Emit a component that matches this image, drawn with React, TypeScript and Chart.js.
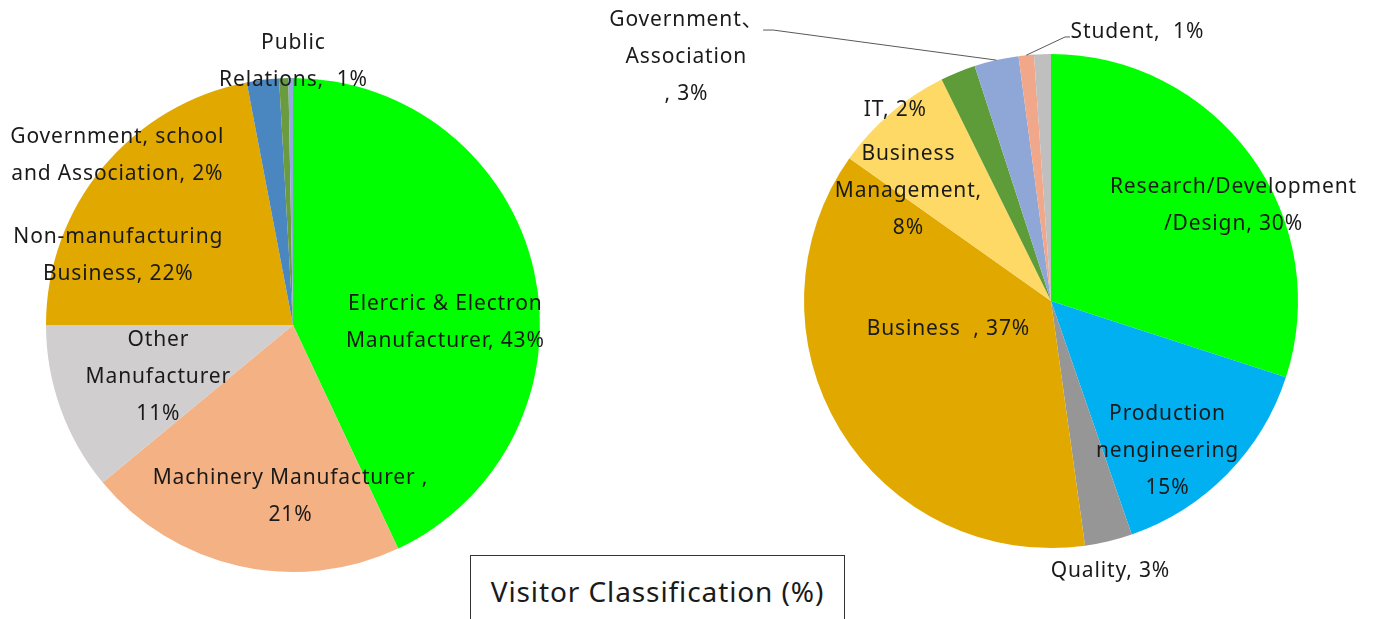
import React, { useEffect, useRef } from "react";
import { Chart, registerables } from "chart.js";

Chart.register(...registerables);

// ---------- DATA ----------
const leftCategories = [
  "Elercric & Electron Manufacturer",
  "Machinery Manufacturer",
  "Other Manufacturer",
  "Non-manufacturing Business",
  "Government, school and Association",
  "Public Relations",
  "Others",
];
const leftValues = [43, 21, 11, 22, 2.1, 0.6, 0.3];
const leftLabelLines = [
  ["Elercric & Electron", "Manufacturer, 43%"],
  ["Machinery Manufacturer ,", "21%"],
  ["Other", "Manufacturer", "11%"],
  ["Non-manufacturing", "Business, 22%"],
  ["Government, school", "and Association, 2%"],
  ["Public", "Relations,  1%"],
  [],
];

const rightCategories = [
  "Research/Development/Design",
  "Production nengineering",
  "Quality",
  "Business",
  "Business Management",
  "IT",
  "Government、Association",
  "Student",
  "Others",
];
const rightValues = [30, 14.7, 3.1, 37, 7.9, 2.3, 2.9, 1, 1.1];
const rightLabelLines = [
  ["Research/Development", "/Design, 30%"],
  ["Production", "nengineering", "15%"],
  ["Quality, 3%"],
  ["Business  , 37%"],
  ["Business", "Management,", "8%"],
  ["IT, 2%"],
  ["Government\u3001", "Association", ", 3%"],
  ["Student,  1%"],
  [],
];

const titleText = "Visitor Classification (%)";

// ---------- STYLES / LAYOUT ----------
const leftColors = ["#00FF00", "#F4B183", "#D0CECE", "#E1A900", "#4A86BF", "#6B9B3F", "#8FAADC"];
const rightColors = ["#00FF00", "#00B0F0", "#969696", "#E1A900", "#FFD966", "#5E9C3A", "#8FA7D6", "#F0A78A", "#BFBFBF"];

// label block centres relative to the pie centre, in units of radius
const leftLabelPos: number[][] = [
  [0.615, -0.01],
  [-0.012, 0.694],
  [-0.547, 0.21],
  [-0.709, -0.283],
  [-0.713, -0.686],
  [0, -1.067],
  [0, 0],
];
const rightLabelPos: number[][] = [
  [0.737, -0.387],
  [0.47, 0.607],
  [0.239, 1.093],
  [-0.417, 0.113],
  [-0.579, -0.445],
  [-0.632, -0.773],
  [-1.478, -0.986],
  [0.348, -1.089],
  [0, 0],
];
// leader lines: [elbow dx, elbow dy (radius units), horizontal tail px]
const rightLeaders: (number[] | null)[] = [null, null, null, null, null, null, [-1.125, -1.097, -10], [0.057, -1.069, 5], null];

const FONT = "'Noto Sans', 'Noto Sans CJK JP', sans-serif";
const FONT_SIZE = 21;
const LINE_H = 37;
const LETTER_SP = 0.85;

const labelPlugin = {
  id: "sliceLabels",
  afterDatasetsDraw(chart: any, _args: any, opts: any) {
    const { ctx } = chart;
    const meta = chart.getDatasetMeta(0);
    const lines: string[][] = opts.lines;
    const pos: number[][] = opts.pos;
    const leaders: (number[] | null)[] = opts.leaders || [];
    ctx.save();
    meta.data.forEach((arc: any, i: number) => {
      const cx = arc.x, cy = arc.y, r = arc.outerRadius;
      const ld = leaders[i];
      if (ld) {
        const mid = (arc.startAngle + arc.endAngle) / 2;
        const sx = cx + Math.cos(mid) * r;
        const sy = cy + Math.sin(mid) * r;
        const ex = cx + ld[0] * r;
        const ey = cy + ld[1] * r;
        ctx.strokeStyle = "#595959";
        ctx.lineWidth = 1;
        ctx.beginPath();
        ctx.moveTo(sx, sy);
        ctx.lineTo(ex, ey);
        ctx.lineTo(ex + ld[2], ey);
        ctx.stroke();
      }
      const ls = lines[i] || [];
      if (!ls.length) return;
      const bx = cx + pos[i][0] * r;
      const by = cy + pos[i][1] * r;
      ctx.fillStyle = "#1A1A1A";
      ctx.font = `${FONT_SIZE}px ${FONT}`;
      (ctx as any).letterSpacing = `${LETTER_SP}px`;
      ctx.textAlign = "left";
      ctx.textBaseline = "middle";
      const n = ls.length;
      ls.forEach((t, k) => {
        const w = ctx.measureText(t).width - LETTER_SP;
        ctx.fillText(t, bx - w / 2, by + (k - (n - 1) / 2) * LINE_H);
      });
    });
    ctx.restore();
  },
};

function PieCanvas(props: {
  labels: string[];
  values: number[];
  colors: string[];
  lines: string[][];
  pos: number[][];
  leaders?: (number[] | null)[];
  padding: { left: number; right: number; top: number; bottom: number };
  style: React.CSSProperties;
  width: number;
  height: number;
}) {
  const ref = useRef<HTMLCanvasElement | null>(null);
  useEffect(() => {
    if (!ref.current) return;
    const chart = new Chart(ref.current, {
      type: "pie",
      data: {
        labels: props.labels,
        datasets: [
          {
            data: props.values,
            backgroundColor: props.colors,
            borderWidth: 0,
          },
        ],
      },
      options: {
        animation: false,
        responsive: false,
        maintainAspectRatio: false,
        layout: { padding: props.padding },
        plugins: {
          legend: { display: false },
          tooltip: { enabled: false },
          title: { display: false },
          sliceLabels: { lines: props.lines, pos: props.pos, leaders: props.leaders || [] },
        } as any,
      },
      plugins: [labelPlugin as any],
    });
    return () => chart.destroy();
  }, []);
  return <canvas ref={ref} width={props.width} height={props.height} style={props.style} />;
}

export default function App() {
  return (
    <div style={{ position: "absolute", left: 0, top: 0, width: 1376, height: 619, overflow: "hidden", background: "#fff" }}>
      <PieCanvas
        labels={leftCategories}
        values={leftValues}
        colors={leftColors}
        lines={leftLabelLines}
        pos={leftLabelPos}
        padding={{ left: 46, right: 60, top: 78, bottom: 47 }}
        width={600}
        height={619}
        style={{ position: "absolute", left: 0, top: 0, width: 600, height: 619 }}
      />
      <PieCanvas
        labels={rightCategories}
        values={rightValues}
        colors={rightColors}
        lines={rightLabelLines}
        pos={rightLabelPos}
        leaders={rightLeaders}
        padding={{ left: 204, right: 78, top: 54, bottom: 71 }}
        width={776}
        height={619}
        style={{ position: "absolute", left: 600, top: 0, width: 776, height: 619 }}
      />
      <div
        style={{
          position: "absolute",
          left: 470,
          top: 555,
          width: 375,
          height: 80,
          border: "1px solid #333",
          boxSizing: "border-box",
          background: "#fff",
          fontFamily: FONT,
          fontSize: 28,
          letterSpacing: "0.9px",
          color: "#1A1A1A",
          textAlign: "center",
          paddingTop: 15,
          lineHeight: "40px",
          whiteSpace: "nowrap",
        }}
      >
        {titleText}
      </div>
    </div>
  );
}
